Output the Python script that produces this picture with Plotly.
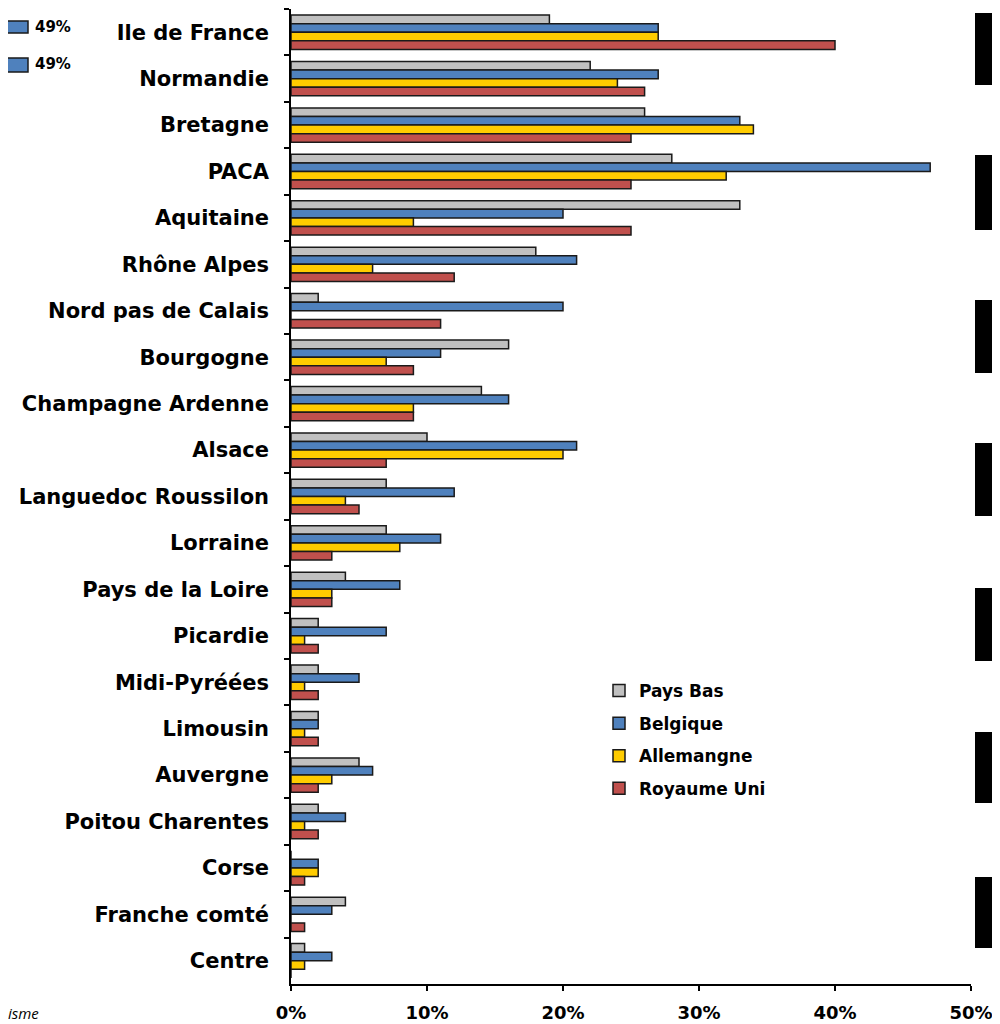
import plotly.graph_objects as go

regions = ["Ile de France", "Normandie", "Bretagne", "PACA", "Aquitaine", "Rhône Alpes",
           "Nord pas de Calais", "Bourgogne", "Champagne Ardenne", "Alsace",
           "Languedoc Roussilon", "Lorraine", "Pays de la Loire", "Picardie",
           "Midi-Pyréées", "Limousin", "Auvergne", "Poitou Charentes", "Corse",
           "Franche comté", "Centre"]
pays_bas = [19, 22, 26, 28, 33, 18, 2, 16, 14, 10, 7, 7, 4, 2, 2, 2, 5, 2, 0, 4, 1]
belgique = [27, 27, 33, 47, 20, 21, 20, 11, 16, 21, 12, 11, 8, 7, 5, 2, 6, 4, 2, 3, 3]
allemagne = [27, 24, 34, 32, 9, 6, 0, 7, 9, 20, 4, 8, 3, 1, 1, 1, 3, 1, 2, 0, 1]
royaume_uni = [40, 26, 25, 25, 25, 12, 11, 9, 9, 7, 5, 3, 3, 2, 2, 2, 2, 2, 1, 1, 0]

series = [("Pays Bas", pays_bas, "#C0C0C0"),
          ("Belgique", belgique, "#4F81BD"),
          ("Allemangne", allemagne, "#FFCC00"),
          ("Royaume Uni", royaume_uni, "#C0504D")]

FONT = "DejaVu Sans"

fig = go.Figure()
for name, vals, col in series:
    fig.add_trace(go.Bar(
        y=regions, x=[v / 100 for v in vals], name=name, orientation="h",
        legendgroup=name,
        marker=dict(color=col, line=dict(color="#1a1a1a", width=1.5)),
    ))

# page has an 8px body margin: figure placed at (8, 8)
OFF = 8
W, H = 992, 1016
L, R, T, B = 283, 29, 1, 40

def py(y_page):
    y = y_page - OFF
    return (H - B - y) / (H - T - B)

def px(x_page):
    x = x_page - OFF
    return (x - L) / (W - L - R)

shapes = []
# black blocks cropped at right edge
for y0, y1 in [(13, 85), (155, 230), (300, 373), (443, 516), (588, 661), (732, 803), (877, 948)]:
    shapes.append(dict(type="rect", xref="paper", yref="paper", x0=px(975), x1=px(1010),
                       y0=py(y1), y1=py(y0), fillcolor="black", line=dict(width=0)))
# blue fragments top left
for y0, y1 in [(21, 33), (58, 72)]:
    shapes.append(dict(type="rect", xref="paper", yref="paper", x0=px(0), x1=px(28),
                       y0=py(y1), y1=py(y0), fillcolor="#4F81BD",
                       line=dict(color="#1a1a1a", width=1.5)))

annotations = []
for yc in [27, 64]:
    annotations.append(dict(xref="paper", yref="paper", x=px(33), y=py(yc), text="<b>49%</b>",
                            showarrow=False, xanchor="left", yanchor="middle",
                            font=dict(family=FONT, size=15, color="black")))
annotations.append(dict(xref="paper", yref="paper", x=px(6), y=py(1013), text="<i>isme</i>",
                        showarrow=False, xanchor="left", yanchor="middle",
                        font=dict(family="Open Sans", size=15, color="black")))

fig.update_layout(
    width=W, height=H,
    margin=dict(l=L, r=R, t=T, b=B),
    paper_bgcolor="white", plot_bgcolor="white",
    barmode="group", bargap=0.26, bargroupgap=0,
    font=dict(family=FONT, color="black"),
    showlegend=True,
    legend=dict(x=px(599), y=py(673), xanchor="left", yanchor="top",
                font=dict(family=FONT, size=17, color="black", weight="bold"),
                bgcolor="rgba(0,0,0,0)", tracegroupgap=7.5, itemwidth=30),
    xaxis=dict(range=[0, 0.5], dtick=0.1, tickformat=".0%", showgrid=False, zeroline=False,
               showline=True, linecolor="black", linewidth=1.5, ticks="outside",
               ticklen=5, tickcolor="black", tickwidth=1.5, ticklabelstandoff=7,
               tickfont=dict(family=FONT, size=18, color="black", weight="bold")),
    yaxis=dict(autorange="reversed", showgrid=False, showline=True, linecolor="black",
               linewidth=1.5, ticks="outside", ticklen=5, tickcolor="black", tickwidth=1.5,
               tickson="boundaries", ticklabelstandoff=16,
               tickfont=dict(family=FONT, size=21, color="black", weight="bold")),
    shapes=shapes, annotations=annotations,
)

fig.write_html("out.html")
